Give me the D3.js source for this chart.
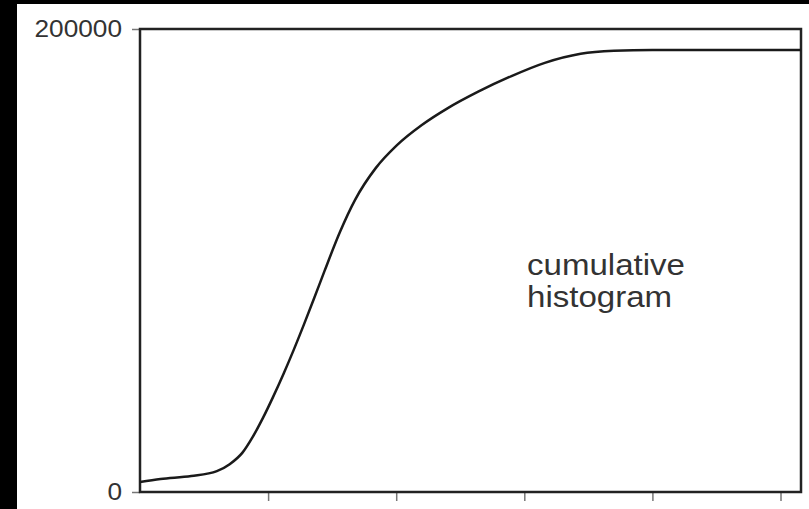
<!DOCTYPE html>
<html lang="en">
<head>
<meta charset="UTF-8">
<title>Cumulative histogram</title>
<script src="https://cdn.jsdelivr.net/npm/d3@7"></script>
<style>
  html, body { margin: 0; padding: 0; background: #000; }
  svg { display: block; }
  text { font-family: "Liberation Sans", Arial, sans-serif; fill: #333; }
</style>
</head>
<body>
<script>
// grey level (x) and cumulative pixel count (y)
const levels = [0, 8, 20, 30, 35, 40, 44, 48, 52, 56, 60, 64, 68, 72, 78, 84, 92, 100, 110, 120, 132, 145, 158, 172, 185, 200, 258];
const counts = [4300, 5580, 6900, 9000, 12000, 17000, 23800, 32000, 41200, 51000, 61400, 72400, 83800, 95400, 112200, 126300, 139900, 149500, 158500, 165700, 172900, 179660, 185380, 189300, 190600, 190975, 190975];
const yTicks = [0, 200000];
const xTicks = [50, 100, 150, 200, 250];
const labelLines = ["cumulative", "histogram"];

const w = 809, h = 509;
const plotLeft = 140, plotRight = 801, plotTop = 29, plotBottom = 492;
const stretch = 1.14; // text in the picture is a bit wide

const dataset = levels.map((l, i) => ({level: l, count: counts[i]}));

const xScale = d3.scaleLinear().domain([0, 258]).range([plotLeft, plotRight]);
const yScale = d3.scaleLinear().domain([0, 200000]).range([plotBottom, plotTop]);

const svg = d3.select("body").append("svg")
  .attr("width", w)
  .attr("height", h);

// black surround, white page
svg.append("rect").attr("width", w).attr("height", h).attr("fill", "#000");
svg.append("rect")
  .attr("x", 17).attr("y", 4)
  .attr("width", w - 17).attr("height", h - 4)
  .attr("fill", "#fff");

// y axis: only the two end ticks
const yAxis = svg.append("g")
  .attr("transform", `translate(${plotLeft}, 0)`)
  .call(d3.axisLeft(yScale).tickValues(yTicks).tickFormat(d3.format("d")).tickSize(8).tickPadding(10));
yAxis.select(".domain").remove();
yAxis.selectAll("line").attr("stroke", "#777").attr("stroke-width", 1.5);
yAxis.selectAll("text")
  .attr("font-size", 23)
  .attr("fill", "#3a3a3a")
  .attr("font-family", "Liberation Sans, Arial, sans-serif")
  .each(function() {
    const t = d3.select(this);
    const x = +t.attr("x");
    t.attr("x", x / stretch).attr("transform", `scale(${stretch},1)`);
  });

// x axis: bare ticks
const xAxis = svg.append("g")
  .attr("transform", `translate(0, ${plotBottom})`)
  .call(d3.axisBottom(xScale).tickValues(xTicks).tickFormat("").tickSize(9));
xAxis.select(".domain").remove();
xAxis.selectAll("line").attr("stroke", "#777").attr("stroke-width", 1.5);

// frame
svg.append("rect")
  .attr("x", plotLeft).attr("y", plotTop)
  .attr("width", plotRight - plotLeft).attr("height", plotBottom - plotTop)
  .attr("fill", "none")
  .attr("stroke", "#222")
  .attr("stroke-width", 2.5);

// the curve
const line = d3.line()
  .x(d => xScale(d.level))
  .y(d => yScale(d.count))
  .curve(d3.curveMonotoneX);

svg.append("path")
  .datum(dataset)
  .attr("d", line)
  .attr("fill", "none")
  .attr("stroke", "#1a1a1a")
  .attr("stroke-width", 2.5);

// label inside the plot
const label = svg.append("text")
  .attr("transform", `translate(527, 275) scale(${stretch},1)`)
  .attr("font-size", 29)
  .attr("fill", "#3a3a3a");
label.selectAll("tspan")
  .data(labelLines)
  .enter()
  .append("tspan")
  .attr("x", 0)
  .attr("dy", (d, i) => i === 0 ? 0 : 32)
  .text(d => d);
</script>
</body>
</html>
